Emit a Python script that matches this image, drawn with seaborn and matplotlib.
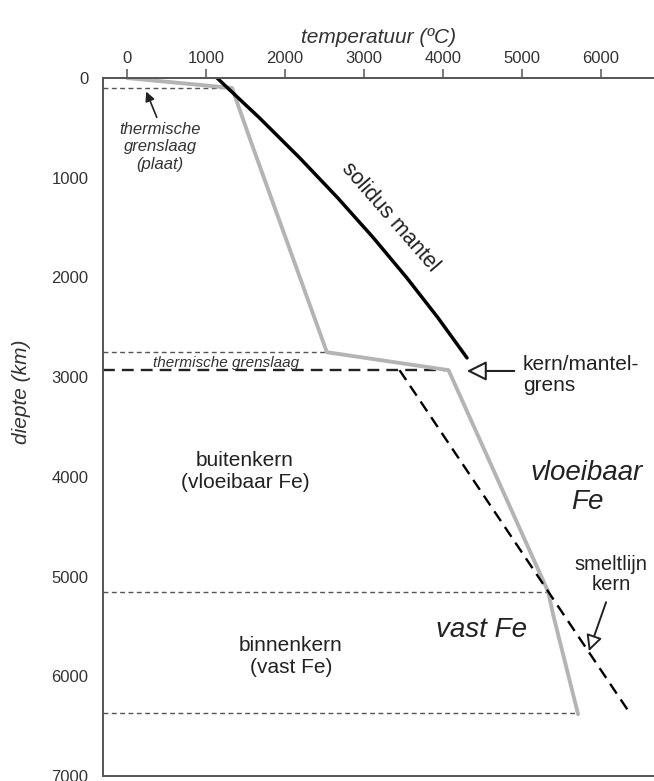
import numpy as np
import pandas as pd
import seaborn as sns
from matplotlib import pyplot as plt

sns.set_theme(style="white")
plt.rcParams['font.family'] = ['Liberation Sans', 'DejaVu Sans']

# geotherm (grey line)
geo_temp = [0, 1330, 1560, 2530, 4070, 5330, 5400, 5710]
geo_depth = [0, 100, 620, 2750, 2930, 5150, 5400, 6380]

# solidus mantle (black line)
sol_temp = [1140, 1677, 2185, 2665, 3116, 3538, 3932, 4304]
sol_depth = [0, 400, 800, 1200, 1600, 2000, 2400, 2807]

# core melting line (dashed)
melt_temp = [3450, 6340]
melt_depth = [2930, 6340]

# horizontal boundaries: depth, end temperature
bound_depth = [100, 2750, 2930, 5150, 6370]
bound_end = [1330, 2530, 4070, 5330, 5710]
bound_style = ['thin', 'thin', 'thick', 'thin', 'thin']

x_ticks = [0, 1000, 2000, 3000, 4000, 5000, 6000]
y_ticks = [0, 1000, 2000, 3000, 4000, 5000, 6000, 7000]

fig = plt.figure(figsize=(6.54, 7.81), dpi=100)
ax = fig.add_axes([0.1575, 0.0064, 0.8425, 0.8937])

for d, e, s in zip(bound_depth, bound_end, bound_style):
    if s == 'thick':
        ax.plot([-304, e], [d, d], color='#222222', lw=1.7, ls=(0, (5, 3)))
    else:
        ax.plot([-304, e], [d, d], color='#555555', lw=1.0, ls=(0, (3.5, 2.5)))

geo = pd.DataFrame({'T': geo_temp, 'd': geo_depth})
sol = pd.DataFrame({'T': sol_temp, 'd': sol_depth})
melt = pd.DataFrame({'T': melt_temp, 'd': melt_depth})

sns.lineplot(data=geo, x='T', y='d', sort=False, estimator=None, color='#b4b4b4', lw=2.8, ax=ax)
sns.lineplot(data=sol, x='T', y='d', sort=False, estimator=None, color='black', lw=2.5, ax=ax)
sns.lineplot(data=melt, x='T', y='d', sort=False, estimator=None, color='black', lw=1.7,
             ls=(0, (5, 3)), ax=ax)

ax.set_xlim(-304, 6671)
ax.set_ylim(7000, 0)
ax.xaxis.tick_top()
ax.xaxis.set_label_position('top')
ax.set_xticks(x_ticks)
ax.set_yticks(y_ticks)
ax.tick_params(axis='both', direction='out', length=6.5, width=1.1, color='#555555',
               labelsize=12, labelcolor='#333333', pad=2)
ax.tick_params(axis='y', pad=4)
for side in ['left', 'top', 'bottom']:
    ax.spines[side].set_color('#555555')
    ax.spines[side].set_linewidth(1.4)
ax.spines['right'].set_visible(False)

ax.set_xlabel('temperatuur (ºC)', fontsize=15, style='italic', color='#333333', labelpad=6)
ax.set_ylabel('diepte (km)', fontsize=15, style='italic', color='#333333')
ax.yaxis.set_label_coords(-0.13, 0.55)

tc = '#333333'
ax.text(418, 690, 'thermische\ngrenslaag\n(plaat)', fontsize=12, style='italic', color=tc,
        ha='center', va='center', linespacing=1.2)
ax.annotate('', xy=(230, 110), xytext=(390, 420),
            arrowprops=dict(arrowstyle='-|>', color='#222222', lw=1.2, mutation_scale=14))
ax.text(3330, 1400, 'solidus mantel', fontsize=15.5, color='#222222', rotation=-49,
        ha='center', va='center', rotation_mode='anchor')
ax.text(1250, 2855, 'thermische grenslaag', fontsize=11, style='italic', color=tc,
        ha='center', va='center')
ax.text(5013, 2978, 'kern/mantel-\ngrens', fontsize=15, color='#222222', ha='left', va='center',
        linespacing=1.15)
ax.annotate('', xy=(4266, 2938), xytext=(4937, 2938),
            arrowprops=dict(arrowstyle='-|>', color='#222222', lw=1.5, fc='white',
                            mutation_scale=30))
ax.text(1494, 3944, 'buitenkern\n(vloeibaar Fe)', fontsize=15, color='#222222',
        ha='center', va='center', linespacing=1.2)
ax.text(5823, 4110, 'vloeibaar\nFe', fontsize=20, style='italic', color='#222222',
        ha='center', va='center', linespacing=1.15)
ax.text(6127, 4980, 'smeltlijn\nkern', fontsize=14.5, color='#222222', ha='center', va='center',
        linespacing=1.1)
ax.annotate('', xy=(5835, 5775), xytext=(6076, 5231),
            arrowprops=dict(arrowstyle='-|>', color='#222222', lw=1.4, fc='white',
                            mutation_scale=24))
ax.text(4487, 5533, 'vast Fe', fontsize=20, style='italic', color='#222222',
        ha='center', va='center')
ax.text(2076, 5805, 'binnenkern\n(vast Fe)', fontsize=15, color='#222222',
        ha='center', va='center', linespacing=1.2)

fig.savefig('out.png', dpi=100)
